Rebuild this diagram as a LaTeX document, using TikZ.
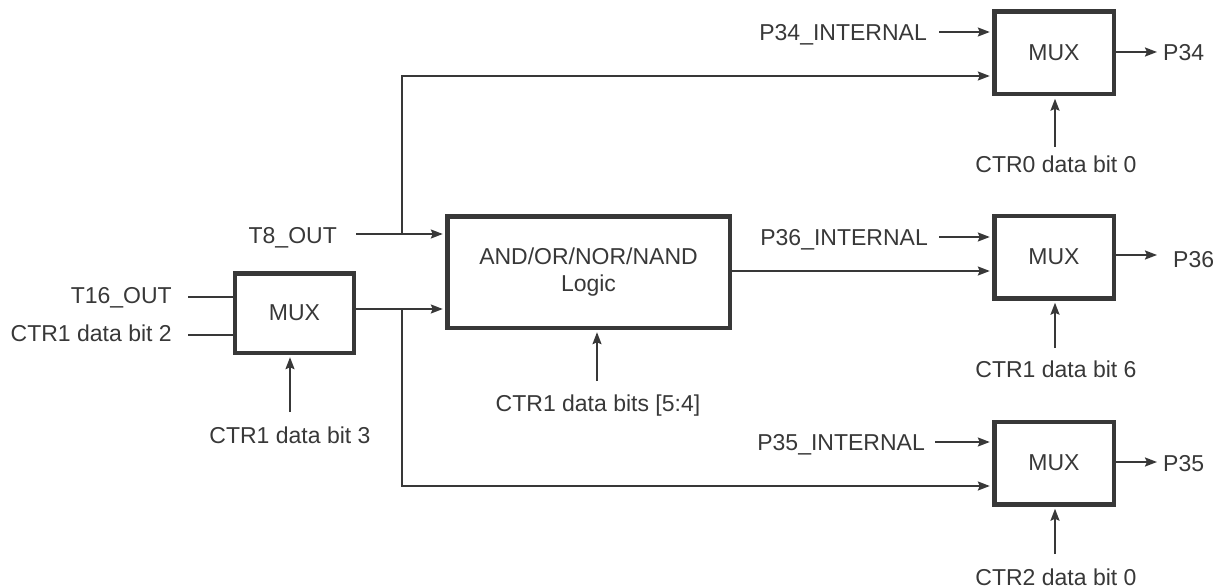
\documentclass[tikz,border=0pt]{standalone}
\usepackage{fontspec}
\setmainfont{Liberation Sans}
\usetikzlibrary{arrows.meta}
\definecolor{ink}{RGB}{56,56,56}
\begin{document}
\begin{tikzpicture}[x=1pt,y=-1pt,
  font=\fontsize{23}{27}\selectfont,
  wire/.style={draw=ink,line width=2pt},
  arr/.style={wire,-{Stealth[length=12pt,width=9pt,inset=2pt]}},
  arrin/.style={arr,shorten >=2.2pt},
  blk/.style={draw=ink,text=ink,line width=4.5pt,inner sep=0pt,
    minimum width=119.5pt,minimum height=82.5pt,align=center},
  lbl/.style={inner sep=0pt,text=ink}
]
\useasboundingbox (0,0) rectangle (1225,588);

% blocks
\node[blk,minimum width=119pt,minimum height=79.5pt] (mux0) at (294.5,313) {MUX};
\node[blk,minimum width=282.5pt,minimum height=111.5pt] (logic) at (588.5,272) {AND/OR/NOR/NAND\\Logic};
\node[blk] (mux1) at (1054,53) {MUX};
\node[blk] (mux2) at (1054,257) {MUX};
\node[blk] (mux3) at (1054,463) {MUX};

% labels
\node[lbl,anchor=base east] (t8) at (337,243) {T8\_OUT};
\node[lbl,anchor=base east] (t16) at (172,303) {T16\_OUT};
\node[lbl,anchor=base east] (c2) at (172,341) {CTR1 data bit 2};
\node[lbl,anchor=base] (c3) at (290,443) {CTR1 data bit 3};
\node[lbl,anchor=base] (c54) at (598,411) {CTR1 data bits [5:4]};
\node[lbl,anchor=base east] (p34i) at (927,41) {P34\_INTERNAL};
\node[lbl,anchor=base east] (p36i) at (928,245) {P36\_INTERNAL};
\node[lbl,anchor=base east] (p35i) at (925,450) {P35\_INTERNAL};
\node[lbl,anchor=base west] (p34) at (1163,61) {P34};
\node[lbl,anchor=base west] (p36) at (1173,267) {P36};
\node[lbl,anchor=base west] (p35) at (1163,471) {P35};
\node[lbl,anchor=base] (c0) at (1056,173) {CTR0 data bit 0};
\node[lbl,anchor=base] (c6) at (1056,377) {CTR1 data bit 6};
\node[lbl,anchor=base] (c20) at (1056,585) {CTR2 data bit 0};

% free ends
\coordinate (t8s) at (356,234);
\coordinate (t16s) at (188,297);
\coordinate (c2s) at (188,335);
\coordinate (c3s) at (290,412);
\coordinate (c54s) at (597,381);
\coordinate (ja) at (402,234);
\coordinate (jb) at (402,309);
\coordinate (jt) at (402,76);
\coordinate (jd) at (402,486);
\coordinate (lo) at (740,271);
\coordinate (p34s) at (939,32);
\coordinate (p36s) at (939,237);
\coordinate (p35s) at (935,442);
\coordinate (p34e) at (1157,52);
\coordinate (p36e) at (1157,255);
\coordinate (p35e) at (1157,462);
\coordinate (c0s) at (1055,147);
\coordinate (c6s) at (1055,348);
\coordinate (c20s) at (1055,554);

% connectors
\draw[arrin] (t8s) -- (t8s -| logic.west);
\draw[wire] (t16s) -- (t16s -| mux0.west);
\draw[wire] (c2s) -- (c2s -| mux0.west);
\draw[arrin] (c3s) -- (c3s |- mux0.south);
\draw[arrin] (mux0.east |- jb) -- (jb -| logic.west);
\draw[arrin] (ja) -- (jt) -- (jt -| mux1.west);
\draw[arrin] (jb) -- (jd) -- (jd -| mux3.west);
\draw[arrin] (c54s) -- (c54s |- logic.south);
\draw[arrin] (logic.east |- lo) -- (lo -| mux2.west);
\draw[arrin] (p34s) -- (p34s -| mux1.west);
\draw[arrin] (p36s) -- (p36s -| mux2.west);
\draw[arrin] (p35s) -- (p35s -| mux3.west);
\draw[arr] (p34e -| mux1.east) -- (p34e);
\draw[arr] (p36e -| mux2.east) -- (p36e);
\draw[arr] (p35e -| mux3.east) -- (p35e);
\draw[arrin] (c0s) -- (c0s |- mux1.south);
\draw[arrin] (c6s) -- (c6s |- mux2.south);
\draw[arrin] (c20s) -- (c20s |- mux3.south);
\end{tikzpicture}
\end{document}
